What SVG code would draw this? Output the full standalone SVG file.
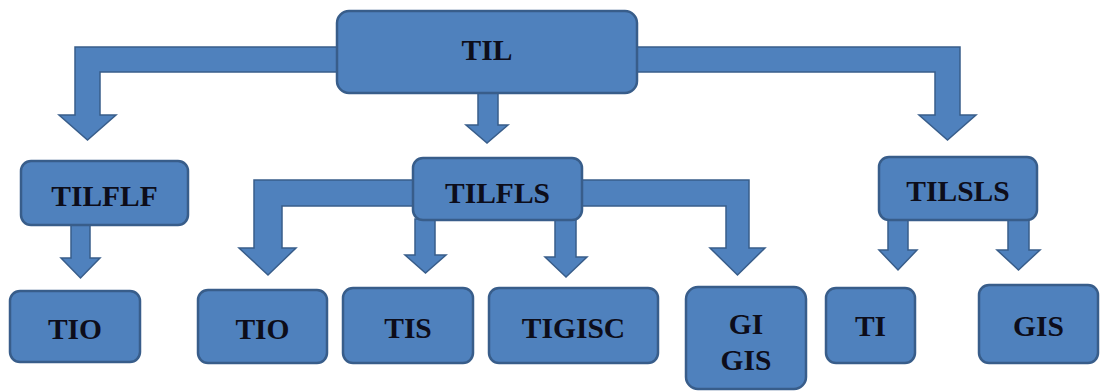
<svg xmlns="http://www.w3.org/2000/svg" width="1102" height="392" viewBox="0 0 1102 392">
<style>
.box{fill:#4F81BD;stroke:#385D8A;stroke-width:2.5}
.arr{fill:#4F81BD;stroke:#385D8A;stroke-width:1.5;stroke-linejoin:miter}
.t{font-family:"Liberation Serif","Times New Roman",serif;font-weight:bold;font-size:29.5px;fill:#0d0d1a;text-anchor:middle;dominant-baseline:central}
</style>
<rect width="1102" height="392" fill="#ffffff"/>
<g id="connectors">
<path class="arr" d="M338,47 L75,47 L75,115 L59,115 L87.5,140 L116,115 L100,115 L100,72 L338,72 Z"/>
<path class="arr" d="M478,92 L498,92 L498,125 L508,125 L487,143 L466,125 L478,125 Z"/>
<path class="arr" d="M636,47 L960,47 L960,115 L976,115 L947.5,140 L919,115 L935,115 L935,72 L636,72 Z"/>
<path class="arr" d="M71,224 L90,224 L90,258 L100,258 L80.5,278 L61,258 L71,258 Z"/>
<path class="arr" d="M416,180 L254,180 L254,248 L239,248 L268,275 L296,248 L282,248 L282,206 L416,206 Z"/>
<path class="arr" d="M415,219 L435,219 L435,255 L446,255 L425.5,273 L405,255 L415,255 Z"/>
<path class="arr" d="M555,219 L576,219 L576,257 L587,257 L566,277 L545,257 L555,257 Z"/>
<path class="arr" d="M581,180 L749,180 L749,248 L765,248 L737.5,275 L710,248 L726,248 L726,206 L581,206 Z"/>
<path class="arr" d="M888,219 L908,219 L908,250 L917,250 L898,270 L879,250 L888,250 Z"/>
<path class="arr" d="M1008,219 L1029,219 L1029,250 L1040,250 L1018.5,270 L997,250 L1008,250 Z"/>
</g>
<g id="TIL"><rect class="box" x="337" y="11" width="300" height="82" rx="12"/><text class="t" x="487" y="50">TIL</text></g>
<g id="TILFLF"><rect class="box" x="21" y="161" width="167" height="64" rx="10"/><text class="t" x="104.5" y="196">TILFLF</text></g>
<g id="TILFLS"><rect class="box" x="413" y="158" width="169" height="62" rx="10"/><text class="t" x="497.5" y="193">TILFLS</text></g>
<g id="TILSLS"><rect class="box" x="879" y="157" width="158" height="63" rx="10"/><text class="t" x="958" y="191">TILSLS</text></g>
<g id="TIO1"><rect class="box" x="10" y="291" width="130" height="71" rx="10"/><text class="t" x="75" y="329">TIO</text></g>
<g id="TIO2"><rect class="box" x="198" y="290" width="129" height="73" rx="10"/><text class="t" x="262.5" y="329">TIO</text></g>
<g id="TIS"><rect class="box" x="343" y="288" width="130" height="75" rx="10"/><text class="t" x="408" y="328">TIS</text></g>
<g id="TIGISC"><rect class="box" x="489" y="288" width="169" height="75" rx="10"/><text class="t" x="573.5" y="328">TIGISC</text></g>
<g id="GIGIS"><rect class="box" x="686" y="287" width="120" height="102" rx="12"/><text class="t" x="746" y="324">GI</text><text class="t" x="746" y="360">GIS</text></g>
<g id="TI"><rect class="box" x="826" y="288" width="89" height="75" rx="10"/><text class="t" x="870.5" y="326">TI</text></g>
<g id="GIS"><rect class="box" x="979" y="285" width="119" height="78" rx="10"/><text class="t" x="1038.5" y="326">GIS</text></g>
</svg>
